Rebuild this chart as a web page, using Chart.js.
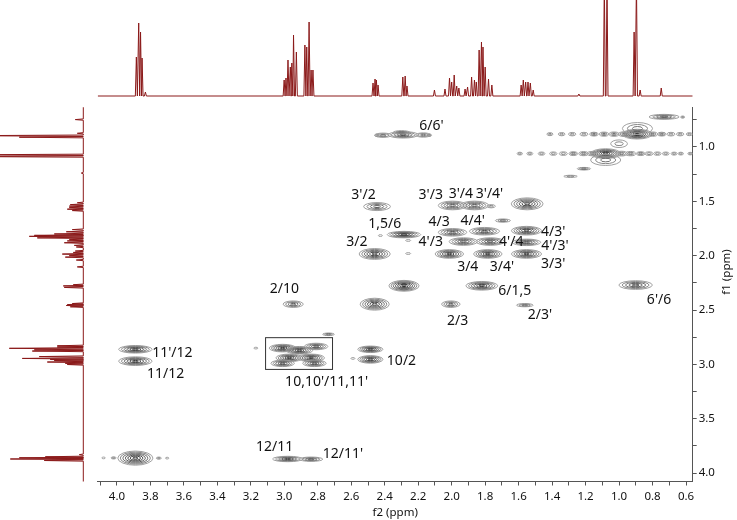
<!DOCTYPE html>
<html>
<head>
<meta charset="utf-8">
<script src="https://cdn.jsdelivr.net/npm/chart.js@4.4.1/dist/chart.umd.min.js"></script>
<style>
  html, body { margin: 0; padding: 0; background: #fff; }
  #wrap { position: relative; width: 737px; height: 520px; overflow: hidden; }
  #wrap canvas { position: absolute; left: 0; top: 0; }
</style>
</head>
<body>
<div id="wrap">
  <canvas id="main" width="737" height="520"></canvas>
  <canvas id="top" width="737" height="110"></canvas>
  <canvas id="side" width="100" height="520"></canvas>
</div>
<script>
// 1H projection: line positions (ppm) and heights
var hPpm = [3.884, 3.870, 3.859, 3.850, 3.830,
            3.001, 2.990, 2.978, 2.964, 2.955, 2.945, 2.928, 2.877, 2.866, 2.852, 2.840, 2.829,
            2.470, 2.458, 2.450, 2.440,
            2.292, 2.278, 2.267,
            2.103,
            2.040, 2.013, 2.000, 1.985, 1.970, 1.957,
            1.920, 1.905, 1.881, 1.864, 1.853, 1.836, 1.822, 1.813, 1.800, 1.780, 1.760,
            1.585, 1.572, 1.558, 1.544, 1.530, 1.513,
            1.240, 1.088, 1.072,
            0.910, 0.896, 0.874, 0.748];
var hInt = [39, 73, 64, 38, 4,
            16, 18, 36, 29, 33, 61, 44, 51, 49, 74, 26, 26,
            13, 17, 16, 11,
            19, 20, 10,
            6,
            7, 18, 14, 21, 10, 8,
            7, 9, 19, 16, 14, 46, 54, 49, 29, 17, 11,
            11, 16, 14, 14, 13, 6,
            2, 115, 115,
            64, 115, 6, 8];

// COSY cross peaks: f2, f1 (ppm), half extents (ppm), contour levels
var pkF2 = [
  // 0.88 row
  2.29, 2.41, 2.17, 2.30, 2.445, 2.135,
  1.413, 1.343, 1.28, 1.21, 1.15, 1.09, 1.03, 0.97, 0.892, 0.80, 0.745, 0.69, 0.635, 0.58,
  // 1.06 row
  1.593, 1.533, 1.463, 1.393, 1.333, 1.273, 1.212, 1.16, 1.08, 0.985, 0.931, 0.871, 0.821, 0.771, 0.721, 0.671, 0.631, 0.575,
  1.08, 0.89, 1.00, 0.731, 0.62, 1.21, 1.29,
  // 1.55 row
  2.446, 1.995, 1.864, 1.764, 1.549,
  // 1.7 - 2.0
  2.285, 2.426, 2.26, 2.26, 2.46, 1.995, 1.804, 1.93, 1.77, 2.014, 1.784, 1.694, 1.553, 1.553, 1.553,
  // 2.27 row
  2.285, 1.82, 0.901,
  // 2.45 row
  2.947, 2.46, 2.005, 1.563,
  // 2.9 row
  3.89, 3.89, 3.01, 2.91, 2.81, 2.97, 2.84, 3.01, 2.82, 2.736, 3.17, 2.486, 2.486, 2.59,
  // 3.87 row
  3.89, 4.08, 4.02, 3.75, 3.70, 2.98, 2.84
];
var pkF1 = [
  0.888, 0.892, 0.890, 0.865, 0.893, 0.892,
  0.882, 0.882, 0.882, 0.882, 0.882, 0.882, 0.882, 0.882, 0.882, 0.882, 0.882, 0.882, 0.882, 0.882,
  1.061, 1.061, 1.061, 1.061, 1.061, 1.061, 1.061, 1.061, 1.061, 1.061, 1.061, 1.061, 1.061, 1.061, 1.061, 1.061, 1.061, 1.061,
  1.12, 0.83, 0.97, 0.723, 0.725, 1.20, 1.27,
  1.548, 1.538, 1.538, 1.545, 1.523,
  1.806, 1.815, 1.86, 1.98, 1.984, 1.785, 1.775, 1.87, 1.87, 1.984, 1.984, 1.677, 1.77, 1.877, 1.984,
  2.277, 2.277, 2.27,
  2.446, 2.446, 2.446, 2.455,
  2.861, 2.97, 2.85, 2.87, 2.835, 2.94, 2.94, 2.99, 2.99, 2.723, 2.85, 2.861, 2.954, 2.945,
  3.862, 3.86, 3.86, 3.862, 3.862, 3.87, 3.872
];
var pkW = [
  0.09, 0.05, 0.045, 0.05, 0.015, 0.015,
  0.018, 0.02, 0.022, 0.024, 0.026, 0.028, 0.03, 0.035, 0.09, 0.03, 0.026, 0.024, 0.022, 0.018,
  0.016, 0.018, 0.02, 0.022, 0.024, 0.026, 0.028, 0.03, 0.09, 0.035, 0.03, 0.026, 0.024, 0.022, 0.02, 0.018, 0.016, 0.014,
  0.09, 0.09, 0.05, 0.09, 0.012, 0.04, 0.04,
  0.08, 0.085, 0.085, 0.025, 0.095,
  0.10, 0.012, 0.015, 0.015, 0.093, 0.085, 0.09, 0.085, 0.085, 0.085, 0.085, 0.045, 0.09, 0.085, 0.09,
  0.09, 0.095, 0.10,
  0.06, 0.087, 0.055, 0.05,
  0.10, 0.10, 0.08, 0.08, 0.07, 0.08, 0.08, 0.07, 0.07, 0.035, 0.012, 0.075, 0.075, 0.012,
  0.105, 0.01, 0.015, 0.015, 0.01, 0.09, 0.07
];
var pkH = [
  0.03, 0.02, 0.02, 0.015, 0.012, 0.012,
  0.014, 0.015, 0.016, 0.017, 0.018, 0.019, 0.02, 0.022, 0.045, 0.02, 0.018, 0.017, 0.016, 0.014,
  0.013, 0.014, 0.015, 0.016, 0.017, 0.018, 0.019, 0.02, 0.045, 0.022, 0.02, 0.018, 0.017, 0.016, 0.015, 0.014, 0.013, 0.012,
  0.05, 0.055, 0.035, 0.023, 0.01, 0.012, 0.01,
  0.037, 0.04, 0.04, 0.015, 0.055,
  0.03, 0.008, 0.008, 0.008, 0.05, 0.035, 0.035, 0.035, 0.035, 0.04, 0.04, 0.015, 0.04, 0.03, 0.04,
  0.05, 0.04, 0.04,
  0.03, 0.055, 0.03, 0.015,
  0.035, 0.04, 0.035, 0.035, 0.03, 0.035, 0.035, 0.03, 0.03, 0.012, 0.008, 0.03, 0.035, 0.008,
  0.065, 0.008, 0.01, 0.01, 0.008, 0.025, 0.02
];
var pkLevel = [
  5, 3, 3, 3, 2, 2,
  2, 2, 2, 2, 3, 3, 3, 3, 7, 3, 3, 2, 2, 2,
  2, 2, 2, 2, 2, 3, 3, 3, 7, 3, 3, 3, 2, 2, 2, 2, 2, 2,
  3, 3, 2, 4, 2, 3, 2,
  4, 5, 5, 2, 6,
  6, 1, 1, 1, 6, 5, 5, 5, 5, 6, 6, 3, 6, 5, 6,
  7, 6, 5,
  4, 6, 4, 3,
  6, 6, 6, 6, 5, 6, 6, 5, 5, 3, 1, 6, 6, 1,
  7, 1, 2, 2, 1, 5, 4
];

// assignment labels
var labText = ["6/6'", "3'/2", "3'/3", "3'/4", "3'/4'", "1,5/6", "3/2", "4/3", "4/4'", "4'/3", "4'/4",
               "4/3'", "4'/3'", "3/3'", "3/4", "3/4'", "6/1,5", "2/3", "2/3'", "6'/6", "2/10",
               "11'/12", "11/12", "10,10'/11,11'", "10/2", "12/11", "12/11'"];
var labF2 = [2.121, 2.527, 2.125, 1.945, 1.774, 2.40, 2.566, 2.075, 1.874, 2.125, 1.644,
             1.393, 1.383, 1.393, 1.904, 1.70, 1.623, 1.965, 1.473, 0.761, 3.0,
             3.669, 3.709, 2.747, 2.30, 3.058, 2.65];
var labF1 = [0.809, 1.446, 1.446, 1.43, 1.437, 1.707, 1.871, 1.693, 1.677, 1.871, 1.877,
             1.785, 1.908, 2.077, 2.108, 2.108, 2.323, 2.60, 2.545, 2.409, 2.31,
             2.893, 3.087, 3.163, 2.97, 3.764, 3.82];

// highlighted region
var boxF2 = [3.112, 2.712];
var boxF1 = [2.754, 3.046];

var f2Range = [0.56, 4.115];
var f1Range = [0.635, 4.077];

var ringGray = ['#a0a0a0', '#888888', '#727272', '#5e5e5e', '#4c4c4c', '#3c3c3c', '#2e2e2e'];
var specColor = '#8b1a1a';
var lineHalf = 0.006;
var labelFont = '14px "Noto Sans", sans-serif';

function projection(swap) {
  var pts = [];
  var add = function (p, v) { pts.push(swap ? { x: v, y: p } : { x: p, y: v }); };
  add(f2Range[1], 0);
  hPpm.forEach(function (p, i) {
    add(p + lineHalf, 0);
    add(p, hInt[i]);
    add(p - lineHalf, 0);
  });
  add(f2Range[0], 0);
  return pts;
}

var contourPlugin = {
  id: 'contours',
  afterDatasetsDraw: function (chart) {
    var ctx = chart.ctx, a = chart.chartArea;
    var xs = chart.scales.x, ys = chart.scales.y;
    var pts = chart.getDatasetMeta(0).data;
    ctx.save();
    ctx.beginPath();
    ctx.rect(a.left, a.top, a.right - a.left, a.bottom - a.top);
    ctx.clip();
    ctx.lineWidth = 1;
    pts.forEach(function (p, i) {
      var rx = Math.abs(xs.getPixelForValue(pkF2[i] - pkW[i]) - p.x);
      var ry = Math.abs(ys.getPixelForValue(pkF1[i] + pkH[i]) - p.y);
      var n = pkLevel[i];
      for (var j = 0; j < n; j++) {
        var s = (n - j) / n;
        ctx.strokeStyle = ringGray[j];
        ctx.beginPath();
        ctx.ellipse(p.x, p.y, Math.max(rx * s, 0.8), Math.max(ry * s, 0.6), 0, 0, Math.PI * 2);
        ctx.stroke();
      }
    });
    // box
    var bx0 = xs.getPixelForValue(boxF2[0]), bx1 = xs.getPixelForValue(boxF2[1]);
    var by0 = ys.getPixelForValue(boxF1[0]), by1 = ys.getPixelForValue(boxF1[1]);
    ctx.strokeStyle = '#333';
    ctx.strokeRect(bx0, by0, bx1 - bx0, by1 - by0);
    // labels
    ctx.fillStyle = '#111';
    ctx.font = labelFont;
    ctx.textAlign = 'center';
    ctx.textBaseline = 'middle';
    labText.forEach(function (t, i) {
      ctx.fillText(t, xs.getPixelForValue(labF2[i]), ys.getPixelForValue(labF1[i]));
    });
    ctx.restore();
  },
  afterDraw: function (chart) {
    // f1 title reads bottom to top
    var ctx = chart.ctx;
    ctx.save();
    ctx.translate(727, 272);
    ctx.rotate(-Math.PI / 2);
    ctx.fillStyle = '#111';
    ctx.font = '11.5px "Noto Sans", sans-serif';
    ctx.textAlign = 'center';
    ctx.textBaseline = 'middle';
    ctx.fillText('f1 (ppm)', 0, 0);
    ctx.restore();
  }
};

var tickFont = { family: 'Noto Sans', size: 11.5 };

new Chart(document.getElementById('main'), {
  type: 'scatter',
  data: {
    datasets: [{
      data: pkF2.map(function (v, i) { return { x: v, y: pkF1[i] }; }),
      pointRadius: 0,
      pointHoverRadius: 0
    }]
  },
  options: {
    responsive: false,
    animation: false,
    events: [],
    layout: { padding: { left: 97.7, top: 107.3, right: 0, bottom: 0 } },
    plugins: { legend: { display: false }, tooltip: { enabled: false } },
    scales: {
      x: {
        type: 'linear', position: 'bottom', reverse: true,
        min: f2Range[0], max: f2Range[1],
        afterFit: function (s) { s.height = 38.5; },
        grid: { drawOnChartArea: false, drawTicks: true, tickLength: 4, color: '#555' },
        border: { color: '#555', width: 1 },
        ticks: {
          stepSize: 0.1, includeBounds: false, autoSkip: false, maxRotation: 0, padding: 4,
          color: '#111', font: tickFont,
          callback: function (v) { return Math.abs(v * 5 - Math.round(v * 5)) < 1e-6 ? v.toFixed(1) : ''; }
        },
        title: { display: true, text: 'f2 (ppm)', color: '#111', font: tickFont, padding: 0 }
      },
      y: {
        type: 'linear', position: 'right', reverse: true,
        min: f1Range[0], max: f1Range[1],
        afterFit: function (s) { s.width = 44.3; },
        grid: { drawOnChartArea: false, drawTicks: true, tickLength: 4, color: '#555' },
        border: { color: '#555', width: 1 },
        ticks: {
          stepSize: 0.25, includeBounds: false, autoSkip: false, padding: 2,
          color: '#111', font: tickFont,
          callback: function (v) { return Math.abs(v * 2 - Math.round(v * 2)) < 1e-6 ? v.toFixed(1) : ''; }
        },
        title: { display: false }
      }
    }
  },
  plugins: [contourPlugin]
});

new Chart(document.getElementById('top'), {
  type: 'scatter',
  data: {
    datasets: [{
      data: projection(false), showLine: true, borderColor: specColor, borderWidth: 1,
      pointRadius: 0, tension: 0
    }]
  },
  options: {
    responsive: false, animation: false, events: [],
    layout: { padding: { left: 97.7, right: 44.3, top: 0, bottom: 12 } },
    plugins: { legend: { display: false }, tooltip: { enabled: false } },
    scales: {
      x: { type: 'linear', reverse: true, min: f2Range[0], max: f2Range[1], display: false },
      y: { type: 'linear', min: -2, max: 96, display: false }
    }
  }
});

new Chart(document.getElementById('side'), {
  type: 'scatter',
  data: {
    datasets: [{
      data: projection(true), showLine: true, borderColor: specColor, borderWidth: 1,
      pointRadius: 0, tension: 0
    }]
  },
  options: {
    responsive: false, animation: false, events: [],
    layout: { padding: { left: 0, right: 14.7, top: 107.3, bottom: 38.5 } },
    plugins: { legend: { display: false }, tooltip: { enabled: false } },
    scales: {
      x: { type: 'linear', reverse: true, min: -2, max: 83.3, display: false },
      y: { type: 'linear', reverse: true, min: f1Range[0], max: f1Range[1], display: false }
    }
  }
});
</script>
</body>
</html>
